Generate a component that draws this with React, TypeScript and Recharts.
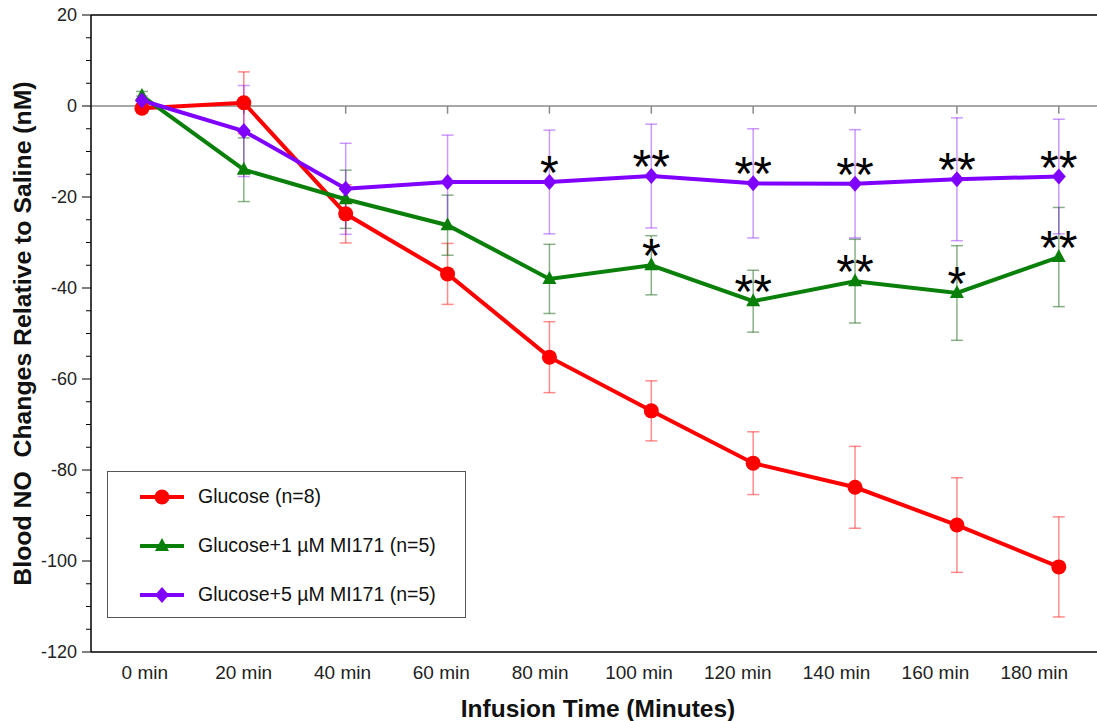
import React from "react";
import { LineChart, Line, XAxis, YAxis, ErrorBar, ReferenceLine, LabelList, Legend, Label } from "recharts";

// infusion time points (minutes)
const times = [0, 20, 40, 60, 80, 100, 120, 140, 160, 180];

// series values (nM, relative to saline) and their error bars
const glucose = [-0.5, 0.7, -23.7, -36.9, -55.2, -67, -78.5, -83.8, -92.1, -101.3];
const glucoseErr = [1, 6.8, 6.4, 6.7, 7.8, 6.6, 6.9, 9, 10.4, 11];
const mi1 = [2.2, -14, -20.5, -26.2, -38, -35, -42.9, -38.5, -41.1, -33.2];
const mi1Err = [1, 7, 6.4, 6.6, 7.6, 6.5, 6.8, 9.2, 10.4, 10.9];
const mi5 = [1.2, -5.5, -18.2, -16.7, -16.7, -15.4, -17, -17.1, -16.1, -15.5];
const mi5Err = [1, 10, 10, 10.3, 11.4, 11.4, 12, 11.9, 13.5, 12.6];

// significance marks
const mi1Sig = ["", "", "", "", "", "*", "**", "**", "*", "**"];
const mi5Sig = ["", "", "", "", "*", "**", "**", "**", "**", "**"];

const seriesNames = ["Glucose (n=8)", "Glucose+1 \u00b5M MI171 (n=5)", "Glucose+5 \u00b5M MI171 (n=5)"];

const yMajor = [-120, -100, -80, -60, -40, -20, 0, 20];
const yTicks = Array.from({ length: 29 }, (_, i) => -120 + i * 5);

const RED = "#ff0000";
const GREEN = "#0a800a";
const PURPLE = "#8000ff";
const FONT = "Arial, 'Liberation Sans', sans-serif";

const data = times.map((t, i) => ({
  t,
  glucose: glucose[i],
  glucoseErr: glucoseErr[i],
  mi1: mi1[i],
  mi1Err: mi1Err[i],
  mi1Sig: mi1Sig[i],
  mi5: mi5[i],
  mi5Err: mi5Err[i],
  mi5Sig: mi5Sig[i],
}));

const Circle = ({ cx, cy }: any) => <circle cx={cx} cy={cy} r={7.5} fill={RED} />;
const Triangle = ({ cx, cy }: any) => (
  <polygon points={`${cx},${cy - 8} ${cx - 7},${cy + 5} ${cx + 7},${cy + 5}`} fill={GREEN} />
);
const Diamond = ({ cx, cy }: any) => (
  <polygon points={`${cx},${cy - 8} ${cx + 7},${cy} ${cx},${cy + 8} ${cx - 7},${cy}`} fill={PURPLE} />
);

const markers = [Circle, Triangle, Diamond];
const colors = [RED, GREEN, PURPLE];

function YTick({ x, y, payload }: any) {
  const major = yMajor.includes(payload.value);
  return (
    <g>
      <line x1={x - (major ? 9 : 5)} x2={x} y1={y} y2={y} stroke="#000" strokeWidth={1} />
      {major && (
        <text x={x - 14} y={y} dy="0.35em" textAnchor="end" fontSize={18} fontFamily={FONT} fill="#222">
          {payload.value}
        </text>
      )}
    </g>
  );
}

function Stars({ x, y, value }: any) {
  if (!value) return null;
  return (
    <text x={x} y={y + 7} textAnchor="middle" fontSize={48} fontFamily={FONT} fill="#000">
      {value}
    </text>
  );
}

function LegendBox() {
  return (
    <div
      style={{
        width: 359,
        height: 147,
        boxSizing: "border-box",
        border: "1.5px solid #555",
        background: "#fff",
        fontFamily: FONT,
        fontSize: 19.5,
        color: "#111",
      }}
    >
      {seriesNames.map((name, i) => {
        const M = markers[i];
        return (
          <div key={name} style={{ height: 49, display: "flex", alignItems: "center" }}>
            <svg width={44} height={20} style={{ marginLeft: 32 }}>
              <line x1={0} x2={44} y1={10} y2={10} stroke={colors[i]} strokeWidth={4} />
              <M cx={22} cy={10} />
            </svg>
            <span style={{ marginLeft: 14 }}>{name}</span>
          </div>
        );
      })}
    </div>
  );
}

export default function App() {
  return (
    <div style={{ position: "absolute", left: 0, top: 0, background: "#fff" }}>
      <LineChart width={1097} height={721} data={data} margin={{ top: 15, right: 0, bottom: 0, left: 0 }}>
        <XAxis xAxisId="data" dataKey="t" type="number" domain={[-10, 187.5]} allowDataOverflow hide height={0} />
        <XAxis
          xAxisId="lab"
          dataKey="t"
          type="number"
          domain={[-10.9, 192.7]}
          allowDataOverflow
          ticks={times}
          interval={0}
          tickFormatter={(v: number) => `${v} min`}
          tickLine={false}
          tickSize={6}
          tickMargin={8}
          height={69}
          stroke="#000"
          strokeWidth={1.5}
          tick={{ fontSize: 19, fontFamily: FONT, fill: "#222" }}
        >
          <Label
            content={({ viewBox }: any) => (
              <text
                x={viewBox.x + viewBox.width / 2 + 4}
                y={viewBox.y + 65}
                textAnchor="middle"
                fontSize={24.5}
                fontWeight="bold"
                fontFamily={FONT}
                fill="#111"
              >
                Infusion Time (Minutes)
              </text>
            )}
          />
        </XAxis>
        <YAxis
          type="number"
          domain={[-120, 20]}
          ticks={yTicks}
          interval={0}
          width={91}
          tickLine={false}
          tickSize={0}
          tickMargin={0}
          tick={<YTick />}
          stroke="#000"
          strokeWidth={1.5}
        >
          <Label
            content={({ viewBox }: any) => {
              const cx = 22;
              const cy = viewBox.y + viewBox.height / 2;
              return (
                <text
                  x={cx}
                  y={cy}
                  dy="0.35em"
                  transform={`rotate(-90 ${cx} ${cy})`}
                  textAnchor="middle"
                  fontSize={24.8}
                  fontWeight="bold"
                  fontFamily={FONT}
                  fill="#111"
                  style={{ whiteSpace: "pre" }}
                >
                  {"Blood NO  Changes Relative to Saline (nM)"}
                </text>
              );
            }}
          />
        </YAxis>
        <ReferenceLine xAxisId="data" y={20} stroke="#000" strokeWidth={1.5} />
        <ReferenceLine xAxisId="data" y={0} stroke="#8a8a8a" strokeWidth={1.5} />
        {times.map((t) => (
          <ReferenceLine
            key={t}
            xAxisId="data"
            segment={[
              { x: t, y: 0 },
              { x: t, y: -1.7 },
            ]}
            stroke="#8a8a8a"
            strokeWidth={1.5}
          />
        ))}
        <Legend
          layout="horizontal"
          align="center"
          verticalAlign="middle"
          content={<LegendBox />}
          wrapperStyle={{ left: 107, top: 471, width: 359, height: 147 }}
        />
        <Line
          xAxisId="data"
          dataKey="glucose"
          name={seriesNames[0]}
          stroke={RED}
          strokeWidth={4}
          dot={(p: any) => <Circle key={p.index} cx={p.cx} cy={p.cy} />}
          activeDot={false}
          isAnimationActive={false}
        >
          <ErrorBar dataKey="glucoseErr" width={6} stroke="rgba(255,0,0,0.45)" strokeWidth={1.5} direction="y" />
        </Line>
        <Line
          xAxisId="data"
          dataKey="mi1"
          name={seriesNames[1]}
          stroke={GREEN}
          strokeWidth={4}
          dot={(p: any) => <Triangle key={p.index} cx={p.cx} cy={p.cy} />}
          activeDot={false}
          isAnimationActive={false}
        >
          <ErrorBar dataKey="mi1Err" width={6} stroke="rgba(20,100,20,0.5)" strokeWidth={1.5} direction="y" />
          <LabelList dataKey="mi1Sig" content={<Stars />} />
        </Line>
        <Line
          xAxisId="data"
          dataKey="mi5"
          name={seriesNames[2]}
          stroke={PURPLE}
          strokeWidth={4}
          dot={(p: any) => <Diamond key={p.index} cx={p.cx} cy={p.cy} />}
          activeDot={false}
          isAnimationActive={false}
        >
          <ErrorBar dataKey="mi5Err" width={6} stroke="rgba(128,0,255,0.4)" strokeWidth={1.5} direction="y" />
          <LabelList dataKey="mi5Sig" content={<Stars />} />
        </Line>
      </LineChart>
    </div>
  );
}
